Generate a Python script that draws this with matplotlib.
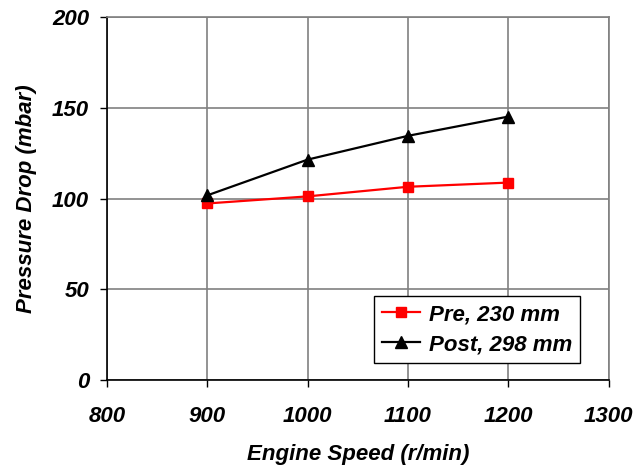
import matplotlib.pyplot as plt

speed = [900, 1000, 1100, 1200]
pre_230 = [97.3, 101.2, 106.5, 108.8]
post_298 = [101.8, 121.5, 134.6, 145.2]

x_ticks = [800, 900, 1000, 1100, 1200, 1300]
y_ticks = [0, 50, 100, 150, 200]

plt.rcParams['font.family'] = ['Liberation Sans', 'DejaVu Sans']

fig = plt.figure(figsize=(6.34, 4.65), dpi=100)
ax = fig.add_axes([0.169, 0.183, 0.791, 0.780])

ax.plot(speed, pre_230, color='#ff0000', marker='s', markersize=7, lw=1.6,
        label='Pre, 230 mm', zorder=3)
ax.plot(speed, post_298, color='black', marker='^', markersize=8, lw=1.6,
        label='Post, 298 mm', zorder=3)

ax.set_xlim(800, 1300)
ax.set_ylim(0, 200)
ax.set_xticks(x_ticks)
ax.set_yticks(y_ticks)
ax.grid(True, color='#808080', lw=1.2, zorder=0)

for side in ['top', 'right']:
    ax.spines[side].set_color('#808080')
    ax.spines[side].set_linewidth(1.2)
for side in ['left', 'bottom']:
    ax.spines[side].set_color('black')
    ax.spines[side].set_linewidth(1.2)

ax.tick_params(direction='out', length=5, width=1, pad=14, labelsize=16)
ax.tick_params(axis='y', pad=8)
for lab in ax.get_xticklabels() + ax.get_yticklabels():
    lab.set_fontweight('bold')
    lab.set_fontstyle('italic')

ax.set_xlabel('Engine Speed (r/min)', fontsize=16, fontweight='bold',
              fontstyle='italic', labelpad=12)
ax.set_ylabel('Pressure Drop (mbar)', fontsize=16, fontweight='bold',
              fontstyle='italic', labelpad=11)

leg = ax.legend(loc='lower right', bbox_to_anchor=(0.942, 0.047),
                prop={'size': 16, 'weight': 'bold', 'style': 'italic'},
                fancybox=False, edgecolor='black', framealpha=1,
                handlelength=1.7, borderpad=0.35, labelspacing=0.4,
                handletextpad=0.4, borderaxespad=0)
leg.get_frame().set_linewidth(1)

fig.savefig('out.png', dpi=100)
